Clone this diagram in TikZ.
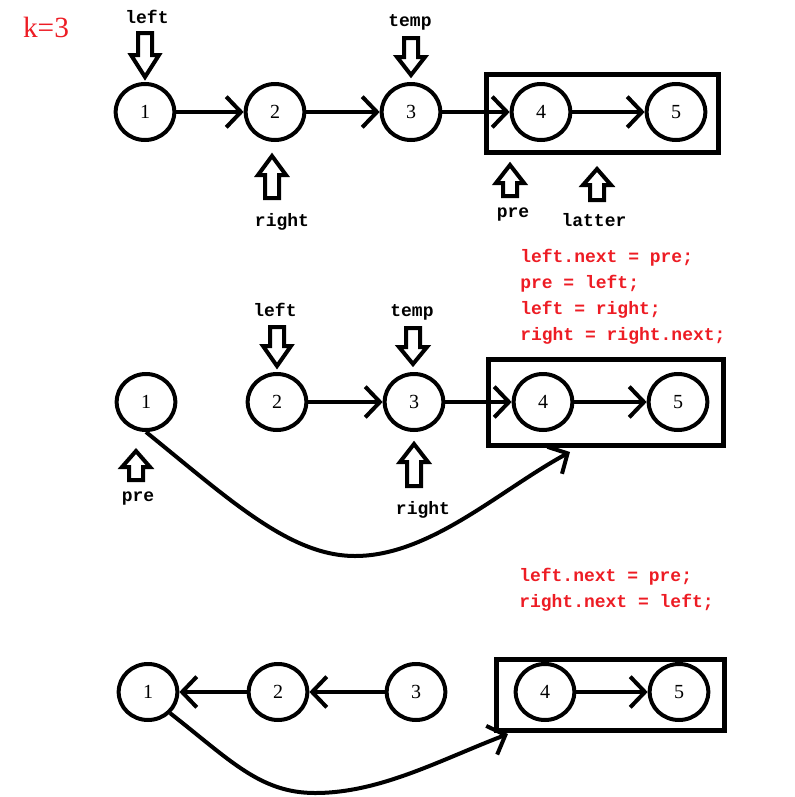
\documentclass[tikz,border=0pt]{standalone}
\usepackage{fontspec}
\setmainfont{Liberation Serif}
\setmonofont{Liberation Mono}
\usetikzlibrary{arrows.meta,shapes.geometric}
\definecolor{codered}{RGB}{237,28,36}
\begin{document}
\begin{tikzpicture}[x=0.75pt,y=-0.75pt,
  elem/.style={draw,ellipse,line width=3pt,minimum width=44pt,minimum height=42pt,inner sep=0pt,font=\fontsize{15}{15}\selectfont},
  nxt/.style={line width=3pt,-{Straight Barb[length=11pt,width=23pt]}},
  tag/.style={inner sep=0pt,font=\ttfamily\bfseries\fontsize{13.5}{13.5}\selectfont},
  code/.style={text=codered,align=left,anchor=west,inner sep=0pt,font=\ttfamily\bfseries\fontsize{13.5}{19.5}\selectfont},
  hollow/.style={line width=3pt,line join=miter}]
  \useasboundingbox (0,0) rectangle (794,797);
  \node[text=codered,inner sep=0pt,font=\fontsize{22}{22}\selectfont] (k) at (46,27) {k=3};
  % three rows of the list
  \foreach \n/\x in {1/145,2/275,3/411,4/541,5/676} \node[elem] (a\n) at (\x,112) {\n};
  \foreach \n/\x in {1/146,2/277,3/414,4/543,5/678} \node[elem] (b\n) at (\x,402) {\n};
  \foreach \n/\x in {1/148,2/278,3/416,4/545,5/679} \node[elem] (c\n) at (\x,692) {\n};
  \foreach \x/\y/\u/\v in {486.5/74.5/718.5/152.5,488.5/359.5/723.5/445.5,496.5/659.5/724.5/730.5}
    \draw[line width=3.75pt] (\x,\y) rectangle (\u,\v);
  \foreach \i/\j in {1/2,2/3,3/4,4/5} \draw[nxt] (a\i) -- (a\j);
  \foreach \i/\j in {2/3,3/4,4/5} \draw[nxt] (b\i) -- (b\j);
  \foreach \i/\j in {2/1,3/2,4/5} \draw[nxt] (c\i) -- (c\j);
  \coordinate (e2) at (570,452);
  \coordinate (e3) at (508,734);
  \draw[nxt] (b1.south) .. controls (230,500) and (290,556) .. (355,556) .. controls (430,556) and (500,490) .. (e2);
  \draw[nxt] (c1.south east) .. controls (230,760) and (260,793) .. (315,793) .. controls (380,793) and (440,760) .. (e3);
  % hollow pointers: x / tip / head base / shaft end
  \foreach \x/\t/\b/\e in {145/77/55/33,411/75/57/38,277/366/346/327,413/364/347/328,
                           272/156/175/198,510/165/183/196,597/169/185/200,136/451/467/480,414/444/462/486}
    \draw[hollow] (\x,\t) -- (\x+14,\b) -- (\x+7,\b) -- (\x+7,\e) -- (\x-7,\e) -- (\x-7,\b) -- (\x-14,\b) -- cycle;
  \node[tag] (lleft) at (147,17) {left};
  \node[tag] (ltemp) at (410,22) {temp};
  \node[tag] (lright) at (282,222) {right};
  \node[tag] (lpre) at (513,215) {pre};
  \node[tag] (llatter) at (594,220) {latter};
  \node[tag] (mleft) at (275,310) {left};
  \node[tag] (mtemp) at (412,312) {temp};
  \node[tag] (mpre) at (138,499) {pre};
  \node[tag] (mright) at (423,510) {right};
  \node[code] (step1) at (520,297) {left.next = pre;\\pre = left;\\left = right;\\right = right.next;};
  \node[code] (step2) at (519,590) {left.next = pre;\\right.next = left;};
\end{tikzpicture}
\end{document}
